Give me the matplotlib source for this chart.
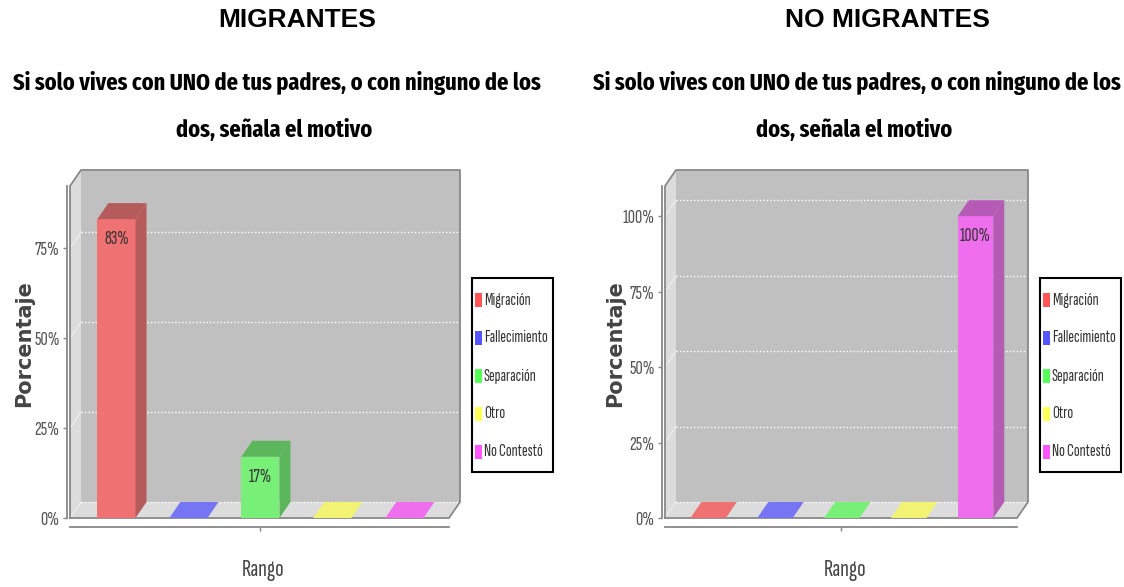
import matplotlib
matplotlib.use("Agg")
import matplotlib.pyplot as plt
from matplotlib.patches import Polygon, Rectangle

categorias = ["Migración", "Fallecimiento", "Separación", "Otro", "No Contestó"]
migrantes = [83, 0, 17, 0, 0]
no_migrantes = [0, 0, 0, 0, 100]
ticks_migrantes = [0, 25, 50, 75]
ticks_no_migrantes = [0, 25, 50, 75, 100]
titulo = ["Si solo vives con UNO de tus padres, o con ninguno de los",
          "dos, señala el motivo"]

frente = ["#ef7171", "#7676f5", "#78f078", "#f3f373", "#ee6eee"]
lado = ["#b55b5b", "#5b5bb5", "#5cb65c", "#b5b55b", "#b55ab5"]
leyenda = ["#ff5555", "#5555ff", "#55ff55", "#ffff55", "#ff55ff"]

W, H = 1124, 587
DX, DY = 11, 16          # profundidad 3D en px
NARROW = ["Sofia Sans Extra Condensed", "Fira Sans Extra Condensed", "DejaVu Sans"]
NARROW_BOLD = ["Fira Sans Extra Condensed", "DejaVu Sans"]

fig = plt.figure(figsize=(W / 100, H / 100), dpi=100)


def px(x, y):
    return x / W, 1 - y / H


def panel(x0, x1, ymax, valores, ticks, cabecera, cab_x, cx, ylab_x):
    top, bot = 186, 518
    ax = fig.add_axes([x0 / W, 1 - bot / H, (x1 - x0) / W, (bot - top) / H])
    xmin, xmax = -0.645, 4.62
    ax.set_xlim(xmin, xmax)
    ax.set_ylim(0, ymax)
    ax.patch.set_visible(False)
    ddx = DX * (xmax - xmin) / (x1 - x0)
    ddy = DY * ymax / (bot - top)

    def poly(pts, color, z):
        ax.add_patch(Polygon(pts, closed=True, facecolor=color, edgecolor="none",
                             zorder=z, clip_on=False))

    # paredes y piso
    poly([(xmin + ddx, ddy), (xmax + ddx, ddy), (xmax + ddx, ymax + ddy),
          (xmin + ddx, ymax + ddy)], "#c0c0c0", 1)
    poly([(xmin, 0), (xmin, ymax), (xmin + ddx, ymax + ddy), (xmin + ddx, ddy)], "#dcdcdc", 1)
    poly([(xmin, 0), (xmax, 0), (xmax + ddx, ddy), (xmin + ddx, ddy)], "#dcdcdc", 1)
    for t in ticks:
        ax.plot([xmin + ddx, xmax + ddx], [t + ddy, t + ddy], color="white", lw=1,
                ls=(0, (1, 1.5)), zorder=2, clip_on=False)
        ax.plot([xmin, xmin + ddx], [t, t + ddy], color="#eeeeee", lw=0.8, zorder=2, clip_on=False)
    ax.plot([xmin, xmin, xmin + ddx, xmax + ddx, xmax + ddx, xmax, xmin],
            [0, ymax, ymax + ddy, ymax + ddy, ddy, 0, 0],
            color="#888888", lw=1.3, zorder=3, clip_on=False)

    # barras
    w = 0.53
    for i, v in enumerate(valores):
        a, b = i - w / 2, i + w / 2
        if v > 0:
            ax.add_patch(Rectangle((a, 0), w, v, facecolor=frente[i], edgecolor="none",
                                   zorder=5, clip_on=False))
            poly([(b, 0), (b, v), (b + ddx, v + ddy), (b + ddx, ddy)], lado[i], 5)
            poly([(a, v), (b, v), (b + ddx, v + ddy), (a + ddx, v + ddy)], lado[i], 5)
            ax.annotate("%d%%" % v, (i, v), xytext=(0, -20), textcoords="offset pixels",
                        ha="center", va="center", fontsize=14, color="#333333",
                        family=NARROW, zorder=6)
        else:
            poly([(a, 0), (b, 0), (b + ddx, ddy), (a + ddx, ddy)], frente[i], 4)

    # ejes
    for s in ["top", "right"]:
        ax.spines[s].set_visible(False)
    ax.spines["left"].set_position(("outward", 2.5))
    ax.spines["bottom"].set_position(("outward", 6.5))
    for s in ["left", "bottom"]:
        ax.spines[s].set_color("#888888")
        ax.spines[s].set_linewidth(1.3)
    ax.set_yticks(ticks)
    ax.set_yticklabels(["%d%%" % t for t in ticks], family=NARROW, fontsize=14.5, color="#555555")
    ax.set_xticks([(xmin + xmax) / 2])
    ax.set_xticklabels([""])
    ax.tick_params(length=3, color="#888888", width=1, pad=2)

    # textos
    fig.text(*px(cab_x, 20), cabecera, ha="center", va="center", fontsize=19,
             fontweight="bold", family="Liberation Sans")
    fig.text(*px(cx, 90), titulo[0], ha="center", va="baseline", fontsize=17.5,
             fontweight="bold", family=NARROW_BOLD)
    fig.text(*px(cx - 3, 137), titulo[1], ha="center", va="baseline", fontsize=17.5,
             fontweight="bold", family=NARROW_BOLD)
    fig.text(*px(ylab_x, 344), "Porcentaje", rotation=90, ha="center", va="center",
             fontsize=15, fontweight="bold", color="#444444", family="DejaVu Sans")
    fig.text(*px((x0 + x1) / 2 + 4, 570), "Rango", ha="center", va="center",
             fontsize=18, color="#444444", family=NARROW)

    # leyenda
    lx = x1 + 23
    fig.add_artist(Rectangle(px(lx, 472), 81 / W, 194 / H, transform=fig.transFigure,
                             facecolor="white", edgecolor="black", lw=1.5))
    for k, (cat, col) in enumerate(zip(categorias, leyenda)):
        yc = 300 + 38 * k
        fig.add_artist(Rectangle(px(lx + 3, yc + 7), 7 / W, 14 / H,
                                 transform=fig.transFigure, facecolor=col, edgecolor="none"))
        fig.text(*px(lx + 12, yc), cat, ha="left", va="center", fontsize=12.5,
                 color="#333333", family=NARROW)
    return ax


panel(70, 449, 92.2, migrantes, ticks_migrantes, "MIGRANTES", 297, 277, 24)
panel(665, 1017, 110, no_migrantes, ticks_no_migrantes, "NO MIGRANTES", 887, 857, 615)

fig.savefig("out.png", dpi=100)
